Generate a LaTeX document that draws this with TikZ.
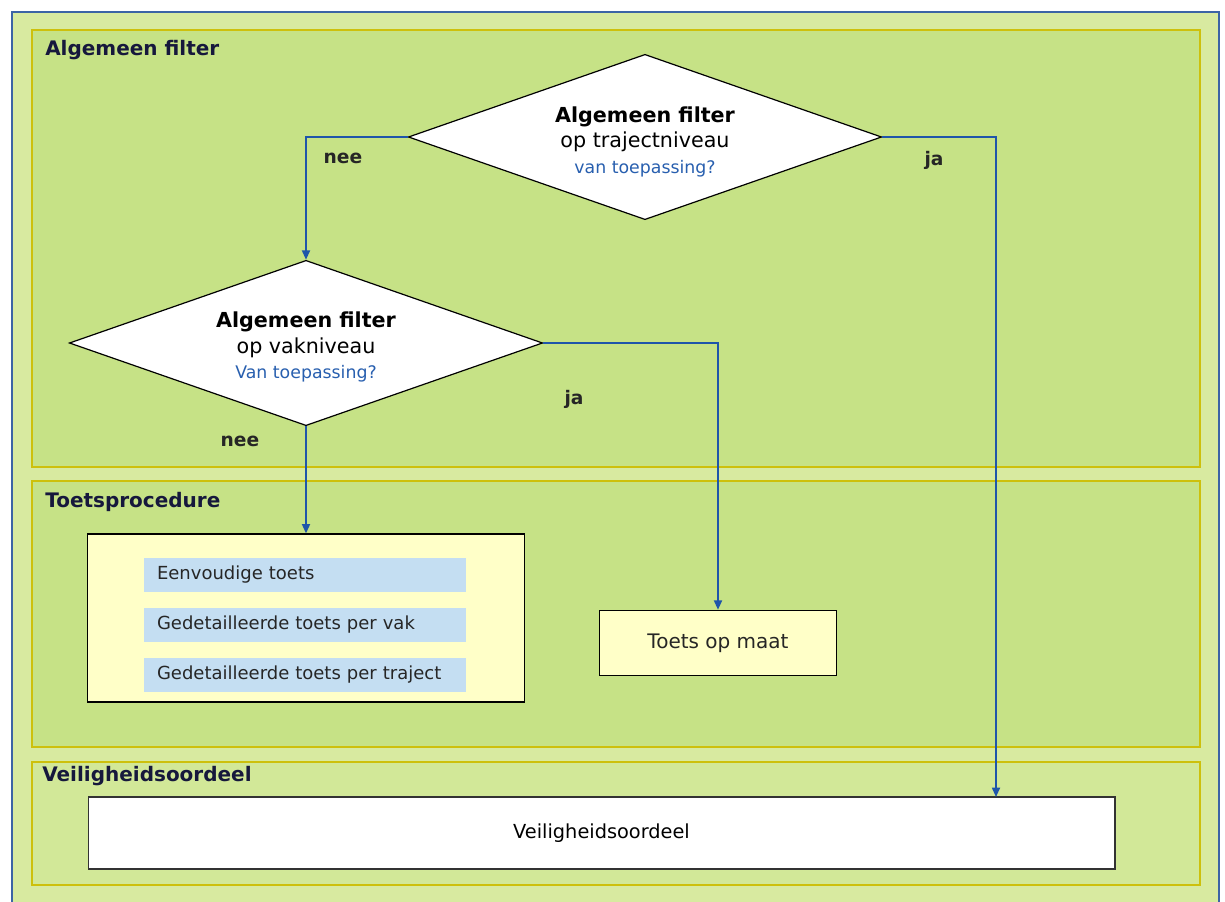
\documentclass[tikz,border=0pt]{standalone}
\usepackage{fontspec}
\setmainfont{DejaVu Sans}
\usetikzlibrary{shapes.geometric,arrows.meta}

\definecolor{outergreen}{RGB}{216,234,160}
\definecolor{panelgreen}{RGB}{198,226,134}
\definecolor{palegreen}{RGB}{210,232,152}
\definecolor{paneledge}{RGB}{205,192,12}
\definecolor{frameblue}{RGB}{60,100,165}
\definecolor{flowblue}{RGB}{30,85,170}
\definecolor{titlenavy}{RGB}{22,24,60}
\definecolor{boxyellow}{RGB}{255,255,200}
\definecolor{barblue}{RGB}{196,222,242}
\definecolor{askblue}{RGB}{40,95,175}

\tikzset{
  panel/.style={draw=paneledge, line width=1.5pt, fill=panelgreen},
  paneltitle/.style={anchor=west, inner sep=0pt, text=titlenavy, font=\bfseries\fontsize{15}{18}\selectfont},
  decision/.style={diamond, shape aspect=2.86, draw=black, fill=white, line width=0.9pt, inner sep=0pt,
    minimum width=355pt, minimum height=124pt, align=center, font=\fontsize{15.5}{19}\selectfont},
  procbox/.style={draw=black, line width=0.9pt, fill=boxyellow},
  bar/.style={fill=barblue, inner xsep=10pt, text width=222pt, minimum height=25pt, align=left,
    text=black!85, font=\fontsize{13.5}{16}\selectfont},
  flow/.style={draw=flowblue, line width=1.3pt, -{Triangle[length=7pt,width=6pt]}},
  answer/.style={inner sep=0pt, text=black!85, font=\bfseries\fontsize{14}{16}\selectfont}
}

\begin{document}
\begin{tikzpicture}[x=0.75pt, y=-0.75pt]
  \useasboundingbox (0,0) rectangle (1225,902);
  \fill[white] (0,0) rectangle (1225,902);

  % Outer frame
  \fill[outergreen] (12,12) rectangle (1219,902);
  \draw[frameblue, line width=0.8pt] (12,902) -- (12,12) -- (1219,12) -- (1219,902);

  % Panels
  \draw[panel] (32,30) rectangle (1200,467);
  \draw[panel] (32,481) rectangle (1200,747);
  \draw[panel, fill=palegreen] (32,762) rectangle (1200,885);

  \node[paneltitle] (filtertitle) at (45,50) {Algemeen filter};
  \node[paneltitle] (toetstitle) at (45,502) {Toetsprocedure};
  \node[paneltitle] (oordeeltitle) at (42,776) {Veiligheidsoordeel};

  % Decisions
  \node[decision] (traject) at (645,137)
    {\rule{0pt}{19pt}{\bfseries Algemeen filter}\\op trajectniveau\\{\color{askblue}\fontsize{13}{19}\selectfont van toepassing?}};
  \node[decision] (vak) at (306,343)
    {\rule{0pt}{18pt}{\bfseries Algemeen filter}\\op vakniveau\\{\color{askblue}\fontsize{13}{19}\selectfont Van toepassing?}};

  % Toetsprocedure
  \node[procbox, minimum width=328pt, minimum height=126pt] (toetsen) at (306,618) {};
  \node[bar] (eenvoudig) at (305,575) {Eenvoudige toets};
  \node[bar] (pervak) at (305,625) {Gedetailleerde toets per vak};
  \node[bar] (pertraject) at (305,675) {Gedetailleerde toets per traject};

  \node[procbox, minimum width=178pt, minimum height=49pt, text=black!85,
        font=\fontsize{15}{18}\selectfont] (maat) at (718,643) {Toets op maat};

  % Veiligheidsoordeel
  \node[draw=black!80, line width=1pt, fill=white, minimum width=770pt, minimum height=54pt,
        font=\fontsize{14.5}{17}\selectfont] (oordeel) at (601.5,833) {Veiligheidsoordeel};
  \coordinate (oordeelin) at (996,797);

  % Connectors
  \draw[flow] (traject.west) -| (vak.north);
  \draw[flow] (traject.east) -| (oordeelin);
  \draw[flow] (vak.east) -| (maat.north);
  \draw[flow] (vak.south) -- (toetsen.north);

  \node[answer] (nee1) at (343,158) {nee};
  \node[answer] (ja1) at (934,160) {ja};
  \node[answer] (ja2) at (574,399) {ja};
  \node[answer] (nee2) at (240,441) {nee};
\end{tikzpicture}
\end{document}
